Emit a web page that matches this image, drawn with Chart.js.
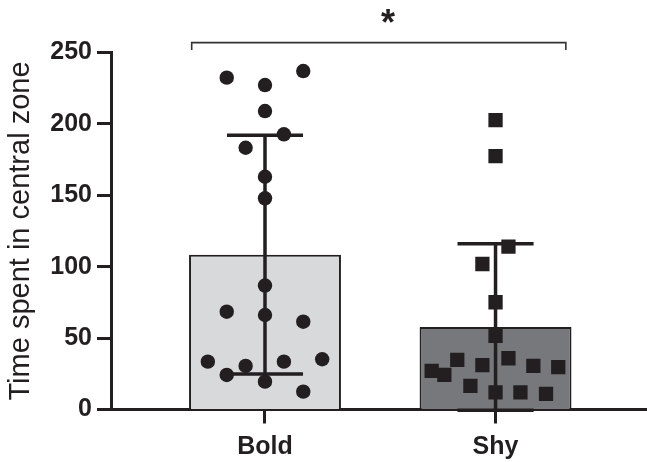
<!DOCTYPE html>
<html>
<head>
<meta charset="utf-8">
<script src="https://cdn.jsdelivr.net/npm/chart.js@4"></script>
<style>
  html, body { margin: 0; padding: 0; background: #ffffff; }
  #wrap { width: 647px; height: 462px; position: relative; }
</style>
</head>
<body>
<div id="wrap"><canvas id="c"></canvas></div>
<script>
// ---- data ----
const categories = ['Bold', 'Shy'];
const groupMeans = [108.4, 57.7];
const groupSD = [83.6, 58.3];

const boldX = [-0.166, 0, 0.166, 0, 0.082, -0.084, 0, 0, 0, -0.166, 0, 0.166, -0.248, -0.084, 0.082, 0.248, -0.166, 0, 0.166];
const boldY = [232.4, 227.2, 237.0, 209.0, 192.7, 183.3, 163.0, 147.9, 86.8, 68.5, 66.2, 61.5, 33.5, 30.5, 33.5, 35.2, 24.2, 19.5, 12.5];

const shyX = [1.0, 1.0, 1.056, 0.943, 1.0, 1.0, 0.834, 1.056, 0.943, 0.723, 0.778, 1.164, 1.272, 0.891, 1.0, 1.108, 1.219];
const shyY = [202.7, 177.5, 114.0, 101.9, 75.1, 51.5, 34.7, 35.9, 31.0, 27.0, 24.2, 30.5, 29.6, 16.5, 12.0, 12.0, 10.9];

const yTicks = [0, 50, 100, 150, 200, 250];
const significance = '*';

// ---- annotation geometry (data units) ----
const bracketX = [-0.318, 1.305];
const bracketY = [251.7, 256.9];
const starPos = { x: 0.534, y: 269 };
const capHalf = 0.165;

const INK = '#231f20';
const FONT = '"Liberation Sans", Arial, Helvetica, sans-serif';

function errorBarPoints(i) {
  const hi = groupMeans[i] + groupSD[i];
  const lo = groupMeans[i] - groupSD[i];
  return [
    { x: i - capHalf, y: hi }, { x: i + capHalf, y: hi }, { x: i, y: null },
    { x: i, y: hi }, { x: i, y: lo }, { x: i, y: null },
    { x: i - capHalf, y: lo }, { x: i + capHalf, y: lo }
  ];
}

const starPlugin = {
  id: 'star',
  afterDraw(chart) {
    const { x, y } = chart.scales;
    const ctx = chart.ctx;
    ctx.save();
    ctx.fillStyle = INK;
    ctx.font = 'bold 36px ' + FONT;
    ctx.textAlign = 'center';
    ctx.textBaseline = 'middle';
    ctx.fillText(significance, x.getPixelForValue(starPos.x), y.getPixelForValue(starPos.y));
    ctx.restore();
  }
};

new Chart(document.getElementById('c'), {
  type: 'scatter',
  data: {
    datasets: [
      {
        type: 'bar',
        data: categories.map((c, i) => ({ x: i, y: groupMeans[i] })),
        backgroundColor: ['#d8d9db', '#77787b'],
        borderColor: INK,
        borderWidth: 2,
        borderSkipped: 'start',
        barPercentage: 0.659,
        categoryPercentage: 1,
        order: 4
      },
      ...categories.map((c, i) => ({
        type: 'line',
        data: errorBarPoints(i),
        showLine: true,
        spanGaps: false,
        borderColor: INK,
        borderWidth: 3.5,
        borderCapStyle: 'butt',
        pointRadius: 0,
        fill: false,
        clip: false,
        order: 3
      })),
      {
        type: 'line',
        data: [
          { x: bracketX[0], y: bracketY[0] }, { x: bracketX[0], y: bracketY[1] },
          { x: bracketX[1], y: bracketY[1] }, { x: bracketX[1], y: bracketY[0] }
        ],
        showLine: true,
        borderColor: '#333333',
        borderWidth: 1.6,
        pointRadius: 0,
        fill: false,
        clip: false,
        order: 3
      },
      {
        data: boldX.map((v, i) => ({ x: v, y: boldY[i] })),
        pointStyle: 'circle',
        pointRadius: 7.2,
        pointBorderWidth: 0,
        backgroundColor: INK,
        borderColor: INK,
        order: 1
      },
      {
        data: shyX.map((v, i) => ({ x: v, y: shyY[i] })),
        pointStyle: 'rect',
        pointRadius: 10.1,
        pointBorderWidth: 0,
        backgroundColor: INK,
        borderColor: INK,
        order: 1
      }
    ]
  },
  options: {
    responsive: true,
    maintainAspectRatio: false,
    animation: false,
    events: [],
    layout: { autoPadding: false, padding: { top: 52.5, left: 0, right: 0, bottom: 0 } },
    plugins: { legend: { display: false }, tooltip: { enabled: false } },
    scales: {
      x: {
        type: 'linear',
        min: -0.668,
        max: 1.657,
        offset: false,
        afterBuildTicks(s) { s.ticks = categories.map((c, i) => ({ value: i })); },
        afterFit(s) { s.height = 52.5; },
        ticks: {
          callback: (v) => categories[v],
          font: { family: FONT, size: 25, weight: 'bold' },
          color: INK,
          padding: 9,
          maxRotation: 0,
          autoSkip: false
        },
        grid: {
          offset: false,
          drawOnChartArea: false,
          drawTicks: true,
          tickLength: 14,
          tickWidth: 3,
          tickColor: INK
        },
        border: { display: true, width: 3, color: INK }
      },
      y: {
        type: 'linear',
        min: yTicks[0],
        max: yTicks[yTicks.length - 1],
        afterBuildTicks(s) { s.ticks = yTicks.map(v => ({ value: v })); },
        afterFit(s) { s.width = 111; },
        ticks: {
          font: { family: FONT, size: 25, weight: 'bold' },
          color: INK,
          padding: 5
        },
        grid: {
          drawOnChartArea: false,
          drawTicks: true,
          tickLength: 14,
          tickWidth: 3,
          tickColor: INK
        },
        border: { display: true, width: 3, color: INK },
        title: {
          display: true,
          text: 'Time spent in central zone',
          font: { family: FONT, size: 29, weight: 'normal' },
          color: INK,
          padding: { top: 4, bottom: 4 }
        }
      }
    }
  },
  plugins: [starPlugin]
});
</script>
</body>
</html>
